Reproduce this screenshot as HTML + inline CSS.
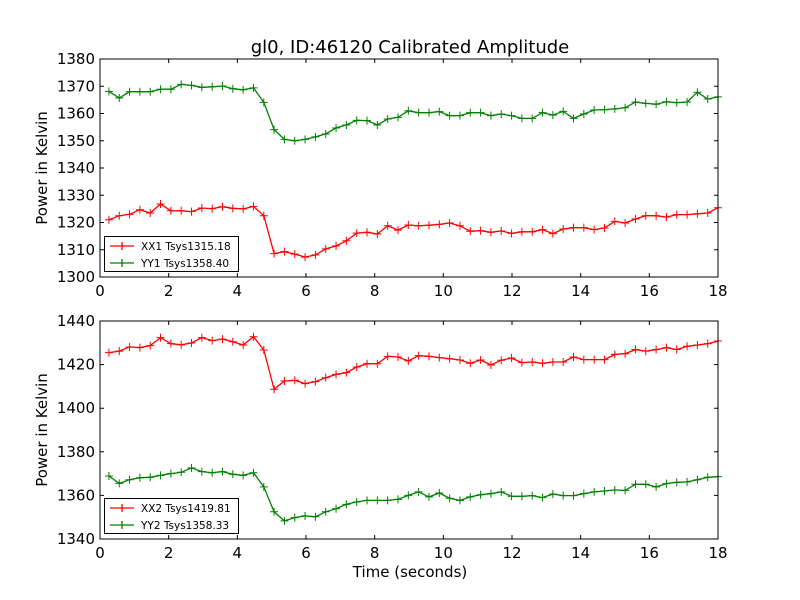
<!DOCTYPE html>
<html><head><meta charset="utf-8"><style>
body{margin:0;background:#fff}
svg{display:block;font-family:"DejaVu Sans","Liberation Sans",sans-serif}
</style></head><body>
<svg id="chart" width="800" height="600" xmlns="http://www.w3.org/2000/svg">
<rect width="800" height="600" fill="#fff"/>
<text x="410" y="53" font-size="18" text-anchor="middle">gl0, ID:46120 Calibrated Amplitude</text>
<text x="410" y="577" font-size="15" text-anchor="middle">Time (seconds)</text>
</svg>
<script>
const times = [];
for (let i = 0; i < 60; i++) times.push(0.26 + i * 0.3007);
const xx1 = [1321.0,1322.5,1323,1324.7,1323.5,1326.8,1324.3,1324.3,1324,1325.3,1325.1,1325.8,1325.2,1325,1325.9,1322.5,1308.6,1309.3,1308.4,1307.3,1308.1,1310.3,1311.4,1313.3,1316.1,1316.4,1315.8,1318.8,1317.2,1319.1,
1318.8,1319,1319.3,1319.8,1318.8,1316.8,1317,1316.4,1316.9,1316,1316.6,1316.6,1317.4,1315.9,1317.6,1318.1,1318.1,1317.4,1318,1320.4,1319.8,1321.3,1322.5,1322.5,1322,1322.9,1322.9,1323.2,1323.5,1325.4];
const yy1 = [1368.1,1365.7,1368,1368,1368,1368.9,1368.9,1370.7,1370.3,1369.6,1369.8,1370.1,1369.1,1368.7,1369.4,1364.1,1354.1,1350.5,1350.0,1350.5,1351.4,1352.5,1354.7,1355.8,1357.5,1357.4,1355.8,1358,1358.6,1361,
1360.3,1360.3,1360.7,1359.2,1359.2,1360.3,1360.3,1359.2,1359.8,1359.2,1358.2,1358.2,1360.3,1359.4,1360.8,1358.2,1359.8,1361.3,1361.4,1361.7,1362.1,1364.2,1363.7,1363.4,1364.3,1364,1364.2,1367.8,1365.3,1366.1];
const xx2 = [1425.5,1426.2,1428.1,1427.8,1428.7,1432.4,1429.6,1429.1,1429.9,1432.4,1431,1431.7,1430.5,1429,1432.8,1426.7,1408.7,1412.5,1412.8,1411.3,1412.2,1414,1415.5,1416.3,1418.9,1420.4,1420.4,1423.8,1423.5,1421.7,
1424.1,1423.8,1423.2,1422.7,1422.1,1420.6,1422.1,1419.8,1422,1423,1420.9,1421.2,1420.6,1421.2,1421.2,1423.5,1422.3,1422.3,1422.3,1424.7,1425,1426.9,1426.2,1426.9,1427.8,1426.9,1428.4,1429,1429.6,1430.8];
const yy2 = [1368.9,1365.5,1367.2,1368.1,1368.3,1369.2,1370,1370.6,1372.6,1370.9,1370.4,1370.9,1369.7,1369.2,1370.4,1363.9,1352.5,1348.3,1349.8,1350.6,1350.2,1352.5,1353.9,1355.9,1357,1357.7,1357.7,1357.7,1358.2,1360,
1361.6,1359.3,1361.1,1358.7,1357.7,1359.3,1360.3,1360.8,1361.6,1359.6,1359.6,1359.9,1359,1360.6,1359.9,1359.9,1360.8,1361.6,1362,1362.5,1362.3,1365.1,1365.1,1363.9,1365.4,1366,1366.2,1367.2,1368.3,1368.6];
const xTicks = [0,2,4,6,8,10,12,14,16,18];
const yTicksTop = [1300,1310,1320,1330,1340,1350,1360,1370,1380];
const yTicksBot = [1340,1360,1380,1400,1420,1440];
const legendTop = ["XX1 Tsys1315.18","YY1 Tsys1358.40"];
const legendBot = ["XX2 Tsys1419.81","YY2 Tsys1358.33"];

const NS = "http://www.w3.org/2000/svg";
const svg = document.getElementById('chart');
function mk(tag, attrs, parent) {
  const e = document.createElementNS(NS, tag);
  for (const k in attrs) e.setAttribute(k, attrs[k]);
  (parent || svg).appendChild(e);
  return e;
}
function panel(name, top, ymin, ymax, yTicks, series, labels) {
  const L = 100, R = 718, T = top, B = top + 218;
  const xs = v => L + (v - 0) / 18 * (R - L);
  const ys = v => B - (v - ymin) / (ymax - ymin) * (B - T);
  const g = mk('g', {});
  
  
  const colors = ['#ff0000', '#008000'];
  series.forEach((s, si) => {
    const pts = s.map((v, i) => xs(times[i]).toFixed(1) + ',' + ys(v).toFixed(1)).join(' ');
    const pl = mk('polyline', {points: pts, fill: 'none', stroke: colors[si], 'stroke-width': 1.3}, g);
    
    
    let d = '';
    s.forEach((v, i) => { const x = xs(times[i]), y = ys(v); d += `M${x-4},${y}H${x+4}M${x},${y-4}V${y+4}`; });
    const mp = mk('path', {d: d, stroke: colors[si], 'stroke-width': 1}, g);
    
    
  });
  const fr = mk('rect', {x: L, y: T, width: R - L, height: B - T, fill: 'none', stroke: '#000', 'stroke-width': 1}, g);
  
  
  xTicks.forEach(t => {
    const x = xs(t);
    mk('path', {d: `M${x},${B}v-4M${x},${T}v4`, stroke: '#000'}, g);
    const tx = mk('text', {x: x, y: B + 19, 'font-size': 15, 'text-anchor': 'middle'}, g);
    
    
    tx.textContent = t;
  });
  yTicks.forEach(t => {
    const y = ys(t);
    mk('path', {d: `M${L},${y}h4M${R},${y}h-4`, stroke: '#000'}, g);
    const tx = mk('text', {x: L - 5, y: y + 5, 'font-size': 15, 'text-anchor': 'end'}, g);
    
    
    tx.textContent = t;
  });
  const yl = mk('text', {x: 47, y: (T + B) / 2, 'font-size': 15, 'text-anchor': 'middle', transform: `rotate(-90 47 ${(T + B) / 2})`}, g);
  
  
  yl.textContent = 'Power in Kelvin';
  const lg = mk('g', {}, g);
  
  
  mk('rect', {x: 104.5, y: B - 40.5, width: 134, height: 35, fill: '#fff', stroke: '#000'}, lg);
  labels.forEach((lab, i) => {
    const y = B - 31 + i * 17;
    mk('path', {d: `M110,${y}h24M122,${y-4}v8`, stroke: colors[i], 'stroke-width': 1.3}, lg);
    const tx = mk('text', {x: 141, y: y + 4, 'font-size': 10.5}, lg);
    
    
    tx.textContent = lab;
  });
}
panel('top-panel', 59, 1300, 1380, yTicksTop, [xx1, yy1], legendTop);
panel('bottom-panel', 321, 1340, 1440, yTicksBot, [xx2, yy2], legendBot);
</script>
</body></html>
